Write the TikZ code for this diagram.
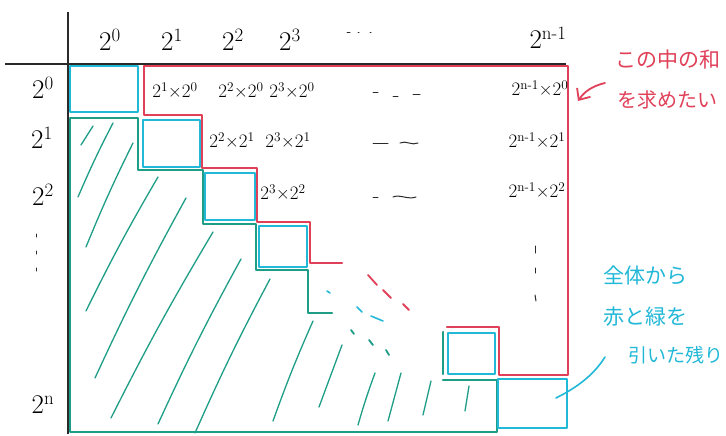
\documentclass[tikz,border=0pt]{standalone}
\usepackage{fontspec}
\newfontfamily\jpfont{Noto Sans CJK JP}
\usetikzlibrary{arrows.meta}
\definecolor{cy}{HTML}{22B8D8}
\definecolor{rd}{HTML}{E04058}
\definecolor{gr}{HTML}{1E9E86}
\definecolor{ax}{HTML}{2A2A2A}
\newcommand\hs[1]{\textsuperscript{#1}}
\begin{document}
\begin{tikzpicture}[x=1pt,y=-1pt,
  cyanbox/.style={draw=cy, line width=2.6pt, line join=round},
  redline/.style={draw=rd, line width=2.3pt, line join=round, line cap=round},
  greenline/.style={draw=gr, line width=2.3pt, line join=round, line cap=round},
  hatch/.style={draw=gr, line width=1.3pt, line cap=round},
  axis/.style={draw=ax, line width=1.1pt},
  tick/.style={draw=ax, line width=1pt, line cap=round},
  hdr/.style={font=\fontsize{27}{29}\selectfont, inner sep=0pt},
  prod/.style={font=\fontsize{19}{21}\selectfont, inner sep=0pt},
  redtxt/.style={text=rd, font=\jpfont\fontsize{21}{24}\selectfont, inner sep=0pt, anchor=west},
  cytxt/.style={text=cy, font=\jpfont\fontsize{21}{24}\selectfont, inner sep=0pt, anchor=west}]
\useasboundingbox (0,0) rectangle (726,436);
\fill[white] (0,0) rectangle (726,436);

% axes
\draw[axis] (68,12) -- (68,434);
\draw[axis] (5,64) -- (566,64);

% hatching
\draw[hatch] (81,145) -- (93,126);
\draw[hatch] (78,197) to[bend left=2] (113,123);
\draw[hatch] (86,247) to[bend left=2] (133,143);
\draw[hatch] (86,311) to[bend left=2] (158,177);
\draw[hatch] (95,378) to[bend left=2] (186,198);
\draw[hatch] (111,418) to[bend left=2] (213,232);
\draw[hatch] (158,424) to[bend left=2] (241,259);
\draw[hatch] (195,433) to[bend left=2] (270,279);
\draw[hatch] (273,421) to[bend left=2] (313,321);
\draw[hatch] (319,407) -- (342,345);
\draw[hatch] (358,425) to[bend left=2] (375,373);
\draw[hatch] (388,421) -- (401,373);
\draw[hatch] (423,415) -- (431,381);
\draw[hatch] (465,411) -- (469,386);

% green region outline
\draw[greenline] (332,313) -- (308,313) -- (308,270) -- (256,270) -- (256,224) -- (203,224) -- (203,170) -- (138,170) -- (138,118) -- (70,118) -- (70,432) -- (497,432) -- (497,380) -- (443,380);
\draw[greenline] (443,332) -- (443,374);

% red region outline
\draw[redline] (342,263) -- (310,263) -- (310,222) -- (257,222) -- (257,168) -- (202,168) -- (202,115) -- (144,115) -- (144,66) -- (568,66) -- (568,375) -- (499,375) -- (499,327) -- (447,327);

% cyan diagonal squares
\draw[cyanbox] (70,66) rectangle (138,112);
\draw[cyanbox] (143,120) rectangle (200,167);
\draw[cyanbox] (205,173) rectangle (255,220);
\draw[cyanbox] (259,226) rectangle (307,267);
\draw[cyanbox] (448,333) rectangle (495,374);
\draw[cyanbox] (498,379) rectangle (567,428);

% dashes in the gap
\draw[redline, line width=1.8pt] (368,275) -- (377,285);
\draw[redline, line width=1.8pt] (383,290) -- (391,298);
\draw[redline, line width=1.8pt] (403,304) -- (409,310);
\draw[draw=cy, line width=1.6pt, line cap=round] (327,291) -- (330,293);
\draw[draw=cy, line width=1.6pt, line cap=round] (357,307) -- (362,312);
\draw[draw=cy, line width=1.6pt, line cap=round] (371,316) -- (383,321);
\draw[draw=gr, line width=1.8pt, line cap=round] (351,330) -- (354,334);
\draw[draw=gr, line width=1.8pt, line cap=round] (369,340) -- (373,345);
\draw[draw=gr, line width=1.8pt, line cap=round] (386,350) -- (389,355);

% column headers
\node[hdr] (c0) at (110,40) {2\hs{0}};
\node[hdr] (c1) at (172,40) {2\hs{1}};
\node[hdr] (c2) at (233,40) {2\hs{2}};
\node[hdr] (c3) at (290,40) {2\hs{3}};
\node[hdr] (cn) at (548,38) {2\hs{n-1}};
\draw[tick] (347,33) -- (350,33);
\draw[tick] (358,33) -- (359,33);
\draw[tick] (370,33) -- (371,33);

% row headers
\node[hdr] (r0) at (43,88) {2\hs{0}};
\node[hdr] (r1) at (42,138) {2\hs{1}};
\node[hdr] (r2) at (43,195) {2\hs{2}};
\node[hdr] (rn) at (43,405) {2\hs{n}};
\draw[tick] (36,234) -- (36,237);
\draw[tick] (36,251) -- (36,254);
\draw[tick] (36,268) -- (36,271);

% products
\node[prod] (p10) at (175,90) {2\hs{1}×2\hs{0}};
\node[prod] (p20) at (241,90) {2\hs{2}×2\hs{0}};
\node[prod] (p30) at (292,90) {2\hs{3}×2\hs{0}};
\node[prod] (pn0) at (540,88) {2\hs{n-1}×2\hs{0}};
\node[prod] (p21) at (232,140) {2\hs{2}×2\hs{1}};
\node[prod] (p31) at (288,140) {2\hs{3}×2\hs{1}};
\node[prod] (pn1) at (537,140) {2\hs{n-1}×2\hs{1}};
\node[prod] (p32) at (283,192) {2\hs{3}×2\hs{2}};
\node[prod] (pn2) at (537,190) {2\hs{n-1}×2\hs{2}};
\draw[tick] (373,93) -- (378,93);
\draw[tick] (393,97) -- (398,97);
\draw[tick] (413,95) -- (420,95);
\draw[tick] (373,143) -- (388,143);
\draw[tick] (400,143) .. controls (406,140) and (412,146) .. (418,143);
\draw[tick] (373,197) -- (378,197);
\draw[tick] (393,197) .. controls (400,194) and (408,200) .. (416,197);
\draw[tick] (535,246) -- (535,253);
\draw[tick] (535,268) -- (535,273);
\draw[tick] (535,295) -- (536,301);

% red annotation
\node[redtxt] (q1) at (615,60) {この中の和};
\node[redtxt, font=\jpfont\fontsize{20}{22}\selectfont] (q2) at (617,100) {を求めたい};
\coordinate (qa) at (605,83);
\coordinate (qb) at (578,101);
\draw[redline, line width=1.8pt, -{Straight Barb[length=9pt,width=16pt,line width=1.8pt]}] (qa) .. controls (592,86) and (584,92) .. (qb);

% cyan annotation
\node[cytxt] (t1) at (603,275) {全体から};
\node[cytxt] (t2) at (603,317) {赤と緑を};
\node[cytxt, font=\jpfont\fontsize{19}{22}\selectfont] (t3) at (628,355) {引いた残り};
\coordinate (ta) at (605,357);
\coordinate (tb) at (556,398);
\draw[draw=cy, line width=1.6pt, line cap=round] (ta) .. controls (595,373) and (580,386) .. (tb);
\end{tikzpicture}
\end{document}
